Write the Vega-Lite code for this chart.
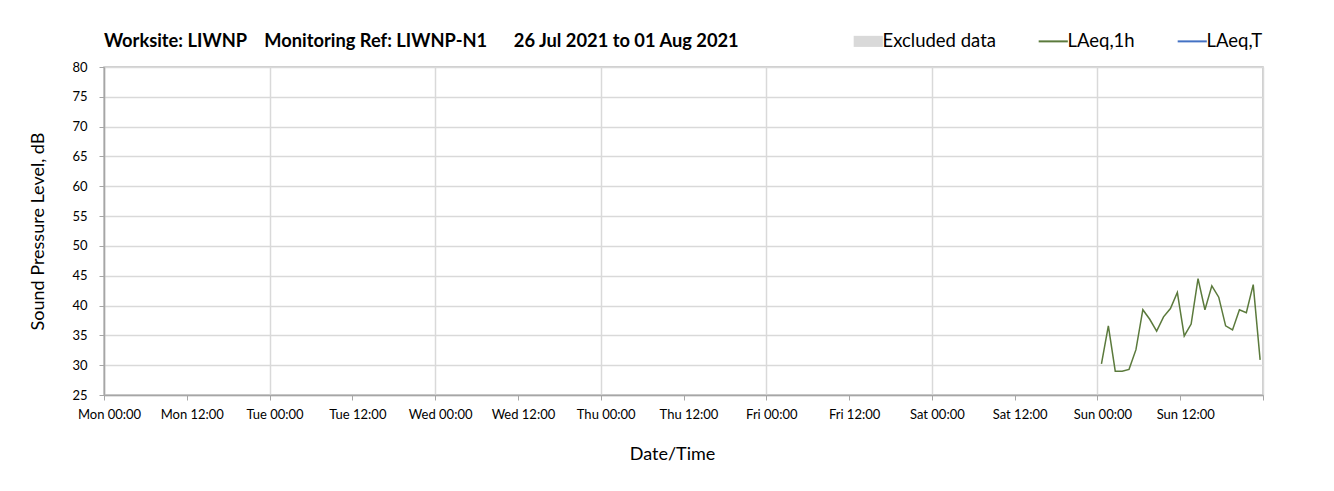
{
  "$schema": "https://vega.github.io/schema/vega-lite/v6.json",
  "autosize": {"type": "none"},
  "padding": {"left": 104, "top": 67, "right": 71, "bottom": 96},
  "width": 1159,
  "height": 328,
  "background": "white",
  "title": {
    "text": "Worksite: LIWNP\u00a0\u00a0\u00a0\u00a0Monitoring Ref: LIWNP-N1\u00a0\u00a0\u00a0\u00a0\u00a0\u00a026 Jul 2021 to 01 Aug 2021",
    "anchor": "start",
    "frame": "group",
    "font": "Lato",
    "fontSize": 18.3,
    "fontWeight": "bold",
    "color": "#000000",
    "offset": 0,
    "dy": 19
  },
  "data": {
    "values": [
      {"time": "2021-08-01T00:35:00", "series": "LAeq,1h", "level": 30.2},
      {"time": "2021-08-01T01:35:00", "series": "LAeq,1h", "level": 36.6},
      {"time": "2021-08-01T02:35:00", "series": "LAeq,1h", "level": 29.0},
      {"time": "2021-08-01T03:35:00", "series": "LAeq,1h", "level": 29.0},
      {"time": "2021-08-01T04:35:00", "series": "LAeq,1h", "level": 29.3},
      {"time": "2021-08-01T05:35:00", "series": "LAeq,1h", "level": 32.6},
      {"time": "2021-08-01T06:35:00", "series": "LAeq,1h", "level": 39.3},
      {"time": "2021-08-01T07:35:00", "series": "LAeq,1h", "level": 37.7},
      {"time": "2021-08-01T08:35:00", "series": "LAeq,1h", "level": 35.7},
      {"time": "2021-08-01T09:35:00", "series": "LAeq,1h", "level": 38.1},
      {"time": "2021-08-01T10:35:00", "series": "LAeq,1h", "level": 39.5},
      {"time": "2021-08-01T11:35:00", "series": "LAeq,1h", "level": 42.2},
      {"time": "2021-08-01T12:35:00", "series": "LAeq,1h", "level": 34.9},
      {"time": "2021-08-01T13:35:00", "series": "LAeq,1h", "level": 36.9},
      {"time": "2021-08-01T14:35:00", "series": "LAeq,1h", "level": 44.5},
      {"time": "2021-08-01T15:35:00", "series": "LAeq,1h", "level": 39.3},
      {"time": "2021-08-01T16:35:00", "series": "LAeq,1h", "level": 43.3},
      {"time": "2021-08-01T17:35:00", "series": "LAeq,1h", "level": 41.4},
      {"time": "2021-08-01T18:35:00", "series": "LAeq,1h", "level": 36.6},
      {"time": "2021-08-01T19:35:00", "series": "LAeq,1h", "level": 35.9},
      {"time": "2021-08-01T20:35:00", "series": "LAeq,1h", "level": 39.3},
      {"time": "2021-08-01T21:35:00", "series": "LAeq,1h", "level": 38.8},
      {"time": "2021-08-01T22:35:00", "series": "LAeq,1h", "level": 43.5},
      {"time": "2021-08-01T23:35:00", "series": "LAeq,1h", "level": 30.9}
    ]
  },
  "mark": {"type": "line", "strokeWidth": 1.5, "clip": true},
  "encoding": {
    "x": {
      "field": "time",
      "type": "temporal",
      "scale": {"domain": ["2021-07-26T00:00:00", "2021-08-02T00:00:00"]},
      "axis": {
        "title": "Date/Time",
        "titleX": 568,
        "values": [
          "2021-07-26T00:00:00", "2021-07-26T12:00:00",
          "2021-07-27T00:00:00", "2021-07-27T12:00:00",
          "2021-07-28T00:00:00", "2021-07-28T12:00:00",
          "2021-07-29T00:00:00", "2021-07-29T12:00:00",
          "2021-07-30T00:00:00", "2021-07-30T12:00:00",
          "2021-07-31T00:00:00", "2021-07-31T12:00:00",
          "2021-08-01T00:00:00", "2021-08-01T12:00:00",
          "2021-08-02T00:00:00"
        ],
        "labelExpr": "datum.value >= datetime(2021, 7, 2) ? '' : timeFormat(datum.value, '%a %H:%M')",
        "labelOffset": 5,
        "labelPadding": 8,
        "labelFlush": false,
        "labelOverlap": false,
        "tickSize": 5,
        "titlePadding": 24,
        "gridOpacity": {"condition": {"test": "hours(datum.value) == 12", "value": 0}, "value": 1}
      }
    },
    "y": {
      "field": "level",
      "type": "quantitative",
      "scale": {"domain": [25, 80], "nice": false, "zero": false},
      "axis": {
        "title": "Sound Pressure Level, dB",
        "values": [25, 30, 35, 40, 45, 50, 55, 60, 65, 70, 75, 80],
        "tickSize": 5,
        "labelPadding": 12,
        "titlePadding": 24
      }
    },
    "color": {
      "field": "series",
      "type": "nominal",
      "scale": {
        "domain": ["Excluded data", "LAeq,1h", "LAeq,T"],
        "range": ["#d9d9d9", "#5b7a3c", "#4472c4"]
      },
      "legend": {
        "title": null,
        "orient": "none",
        "direction": "horizontal",
        "legendX": 755,
        "legendY": -35,
        "columnPadding": 38,
        "symbolSize": 850,
        "symbolType": "M-1,0H1",
        "symbolStrokeWidth": 2,
        "labelOffset": 5,
        "labelFont": "Lato",
        "labelFontSize": 18.5,
        "labelColor": "#000000",
        "encode": {
          "symbols": {
            "update": {
              "shape": {"signal": "datum.value === 'Excluded data' ? 'M-1,-0.38H1V0.38H-1Z' : 'M-1,0H1'"},
              "fill": {"signal": "datum.value === 'Excluded data' ? '#d9d9d9' : 'transparent'"},
              "strokeWidth": {"signal": "datum.value === 'Excluded data' ? 0 : 2"}
            }
          }
        }
      }
    }
  },
  "config": {
    "font": "Lato",
    "view": {"stroke": "#bfbfbf", "strokeWidth": 1.5},
    "axis": {
      "labelFont": "Lato",
      "labelFontSize": 13,
      "labelColor": "#000000",
      "titleFont": "Lato",
      "titleFontSize": 18,
      "titleFontWeight": "normal",
      "titleColor": "#000000",
      "gridColor": "#d9d9d9",
      "gridWidth": 1.5,
      "domainColor": "#a6a6a6",
      "domainWidth": 1.5,
      "tickColor": "#a6a6a6",
      "tickWidth": 1
    }
  }
}
